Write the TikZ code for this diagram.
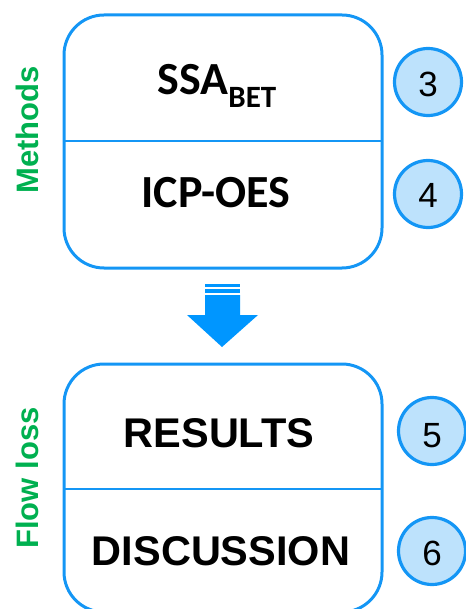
\documentclass[tikz,border=0pt]{standalone}
\usepackage{fontspec}
\setmainfont{Liberation Sans}
\newfontfamily\calib{Carlito}
\definecolor{boxblue}{RGB}{20,150,245}
\definecolor{arrowblue}{RGB}{0,150,255}
\definecolor{circfill}{RGB}{189,226,252}
\definecolor{labgreen}{RGB}{0,176,80}
\begin{document}
\begin{tikzpicture}[x=1pt,y=-1pt,
  panel/.style={draw=boxblue,line width=3pt,rounded corners=40pt},
  divider/.style={draw=boxblue,line width=2pt},
  numcirc/.style={circle,draw=boxblue,line width=3.2pt,fill=circfill,minimum size=67pt,inner sep=0pt},
  numtxt/.style={font=\fontsize{35}{40}\selectfont,anchor=base},
  calibtxt/.style={font=\calib\bfseries\fontsize{46}{50}\selectfont,anchor=base},
  ariltxt/.style={font=\bfseries\fontsize{41.5}{46}\selectfont,anchor=base},
  sidelab/.style={font=\bfseries\fontsize{31}{34}\selectfont,text=labgreen,rotate=90,inner sep=0pt}]
\useasboundingbox (0,0) rectangle (465,609);
% top panel
\draw[panel] (64,15) rectangle (382,268);
\draw[divider] (64,141) -- (382,141);
\node[calibtxt] (ssa) at (217,95) {SSA\raisebox{-13pt}{\fontsize{31}{34}\selectfont BET}};
\node[calibtxt] (icp) at (216,208) {ICP-OES};
\node[sidelab] (meth) at (27,130) {Methods};
\node[numcirc] (c3) at (428,82) {};
\node[numtxt] at (428,97) {3};
\node[numcirc] (c4) at (428,194) {};
\node[numtxt] at (428,208) {4};
% arrow
\fill[arrowblue] (205,284) rectangle (240,287);
\fill[arrowblue] (205,289) rectangle (240,293);
\fill[arrowblue] (205,295) -- (240,295) -- (240,315) -- (258,315) -- (222,347) -- (187,315) -- (205,315) -- cycle;
% bottom panel
\draw[panel] (64,364) rectangle (382,612);
\draw[divider] (64,489) -- (382,489);
\node[ariltxt] (res) at (219,447) {RESULTS};
\node[ariltxt] (dis) at (221,565) {DISCUSSION};
\node[sidelab] (flow) at (27,478) {Flow loss};
\node[numcirc] (c5) at (432,431) {};
\node[numtxt] at (432,447) {5};
\node[numcirc] (c6) at (432,551) {};
\node[numtxt] at (432,565) {6};
\end{tikzpicture}
\end{document}
